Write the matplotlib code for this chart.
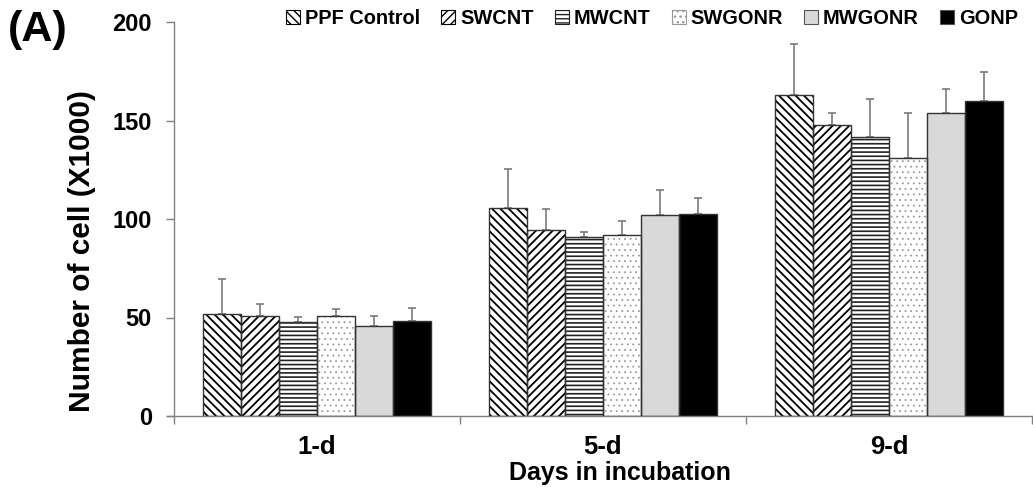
import matplotlib
matplotlib.use("Agg")
import matplotlib.pyplot as plt
import numpy as np

plt.rcParams['font.family'] = ['Liberation Sans', 'DejaVu Sans']
plt.rcParams['font.weight'] = 'bold'

days = ["1-d", "5-d", "9-d"]
groups = ["PPF Control", "SWCNT", "MWCNT", "SWGONR", "MWGONR", "GONP"]

ppf_control = [51.8, 105.7, 162.9]
swcnt = [50.9, 94.2, 147.7]
mwcnt = [47.6, 91.0, 141.4]
swgonr = [50.8, 91.9, 131.2]
mwgonr = [45.5, 102.0, 153.6]
gonp = [48.4, 102.7, 159.7]

ppf_control_sd = [17.7, 19.8, 26.1]
swcnt_sd = [5.9, 10.7, 5.9]
mwcnt_sd = [2.7, 2.2, 19.4]
swgonr_sd = [3.5, 7.2, 22.6]
mwgonr_sd = [5.3, 12.6, 12.2]
gonp_sd = [6.3, 8.1, 14.7]

means = [ppf_control, swcnt, mwcnt, swgonr, mwgonr, gonp]
errors = [ppf_control_sd, swcnt_sd, mwcnt_sd, swgonr_sd, mwgonr_sd, gonp_sd]

# fill colour, hatch pattern, hatch colour, hatch line width for each material
styles = [
    ("white", "\\\\\\\\", "black", 1.3),
    ("white", "////", "black", 1.3),
    ("white", "----", "#222222", 1.2),
    ("white", "...", "#9a9a9a", 0.6),
    ("#d9d9d9", "", "#d9d9d9", 1.0),
    ("black", "", "black", 1.0),
]

fig = plt.figure(figsize=(10.33, 4.87), dpi=100)
ax = fig.add_axes([174 / 1033, 1 - 416 / 487, (1032 - 174) / 1033, (416 - 22) / 487])

x = np.arange(len(days))
width = 0.8 / len(groups)
handles = []
for i, (name, vals, errs, (fc, hatch, hc, hlw)) in enumerate(zip(groups, means, errors, styles)):
    pos = x - 0.4 + width * (i + 0.5)
    with plt.rc_context({"hatch.linewidth": hlw}):
        # hatched fill
        ax.bar(pos, vals, width, color=fc, hatch=hatch, edgecolor=hc, linewidth=0, zorder=2)
        handles.append(plt.Rectangle((0, 0), 1, 1, facecolor=fc, hatch=hatch,
                                     edgecolor=hc if hatch else "#555555", linewidth=0.8))
    # outline
    ax.bar(pos, vals, width, fill=False, edgecolor="#333333", linewidth=1.0, zorder=3)
    ax.errorbar(pos, vals, yerr=[np.zeros(len(errs)), errs], fmt="none",
                ecolor="#7a7a7a", elinewidth=1.2, capsize=3, capthick=1.2, zorder=1)

ax.set_xlim(-0.5, 2.5)
ax.set_ylim(0, 200)
ax.set_yticks([0, 50, 100, 150, 200])
ax.tick_params(axis="y", labelsize=17, length=6, width=1, color="#808080", pad=10)
ax.set_xticks(x)
ax.set_xticklabels(days)
ax.set_xticks([-0.5, 0.5, 1.5, 2.5], minor=True)
ax.tick_params(axis="x", which="major", length=0, labelsize=18.5, pad=14)
ax.tick_params(axis="x", which="minor", length=6, width=1, color="#808080")

for s in ["top", "right"]:
    ax.spines[s].set_visible(False)
for s in ["left", "bottom"]:
    ax.spines[s].set_color("#808080")
    ax.spines[s].set_linewidth(1.0)
ax.spines["bottom"].set_bounds(-0.525, 2.5)
ax.spines["bottom"].set_clip_on(False)

fig.text(620 / 1033, 1 - 473 / 487, "Days in incubation", ha="center", va="center",
         fontsize=18, fontweight="bold")
fig.text(82 / 1033, 1 - 251 / 487, "Number of cell (X1000)", ha="center", va="center",
         rotation=90, fontsize=21.5, fontweight="bold")
fig.text(8 / 1033, 1 - 30 / 487, "(A)", ha="left", va="center", fontsize=31, fontweight="bold")

fig.legend(handles, groups, loc="center", bbox_to_anchor=(652 / 1033, 1 - 18 / 487),
           ncol=6, frameon=False, fontsize=14.4, handlelength=0.7, handleheight=0.7,
           handletextpad=0.25, columnspacing=1.05, borderpad=0)

fig.savefig("out.png", dpi=100)
